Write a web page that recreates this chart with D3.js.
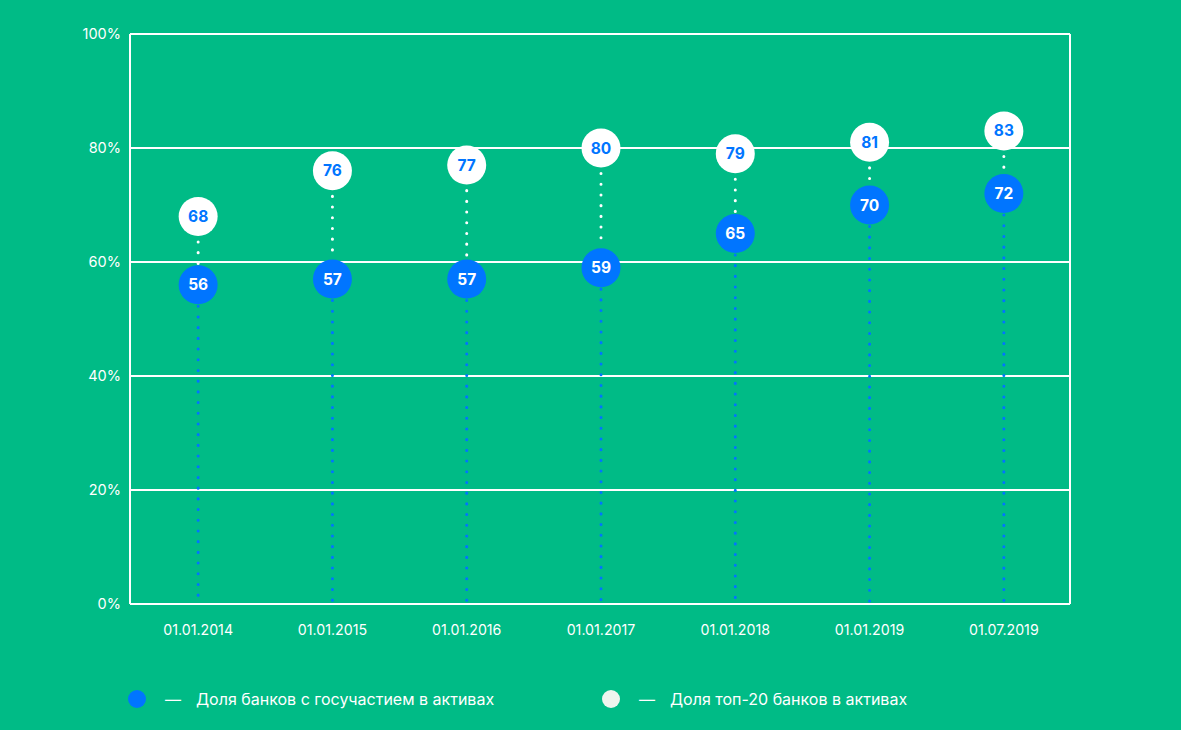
<!DOCTYPE html>
<html><head><meta charset="utf-8">
<script src="https://cdn.jsdelivr.net/npm/d3@7"></script>
<style>
html,body{margin:0;padding:0;background:#00BB86;}
svg{display:block;font-family:Inter,"Noto Sans",sans-serif;}
</style></head>
<body><svg id="c" width="1181" height="730"></svg>
<script>
const categories = ["01.01.2014","01.01.2015","01.01.2016","01.01.2017","01.01.2018","01.01.2019","01.07.2019"];
const stateBanks = [56,57,57,59,65,70,72];
const top20Banks = [68,76,77,80,79,81,83];
const yTicks = [0,20,40,60,80,100];
const legendLabels = ["Доля банков с госучастием в активах","Доля топ-20 банков в активах"];

const W=1181,H=730;
const svg=d3.select("#c");
svg.append("rect").attr("width",W).attr("height",H).attr("fill","#00BB86");
const m={l:130,r:1070,t:34,b:604};
const x=d3.scaleBand().domain(categories).range([m.l+1,m.r+1]);
const y=d3.scaleLinear().domain([0,100]).range([m.b,m.t]);
const blue="#0075FF", white="#FFFFFF";

// grid
const g=svg.append("g");
g.selectAll("line.grid").data(yTicks).enter().append("line")
 .attr("x1",m.l).attr("x2",m.r).attr("y1",d=>y(d)).attr("y2",d=>y(d))
 .attr("stroke",white).attr("stroke-width",2);
g.append("line").attr("x1",m.l).attr("x2",m.l).attr("y1",m.t).attr("y2",m.b).attr("stroke",white).attr("stroke-width",2);
g.append("line").attr("x1",m.r).attr("x2",m.r).attr("y1",m.t).attr("y2",m.b).attr("stroke",white).attr("stroke-width",2);

// y labels
const yAxis=d3.axisLeft(y).tickValues(yTicks).tickFormat(d=>d+"%").tickSize(0).tickPadding(9);
const ya=svg.append("g").attr("transform",`translate(${m.l},0)`).call(yAxis);
ya.select(".domain").remove();
ya.selectAll("text").attr("fill",white).attr("font-size",14.5).attr("font-family","Inter,'Noto Sans',sans-serif");

// x labels
const xAxis=d3.axisBottom(x).tickSize(0).tickPadding(21);
const xa=svg.append("g").attr("transform",`translate(0,${m.b})`).call(xAxis);
xa.select(".domain").remove();
xa.selectAll("text").attr("fill",white).attr("font-size",14.2).attr("font-family","Inter,'Noto Sans',sans-serif");

const cx=d=>x(d)+x.bandwidth()/2;
const r=19.5;
const rows=categories.map((c,i)=>({c,s:stateBanks[i],t:top20Banks[i]}));

// blue dotted lines to bottom
svg.append("g").selectAll("line").data(rows).enter().append("line")
 .attr("x1",d=>cx(d.c)).attr("x2",d=>cx(d.c))
 .attr("y1",d=>y(d.s)).attr("y2",m.b-2)
 .attr("stroke",blue).attr("stroke-width",3).attr("stroke-linecap","round")
 .attr("stroke-dasharray","0.1,10.6");
// white dotted between
svg.append("g").selectAll("line").data(rows).enter().append("line")
 .attr("x1",d=>cx(d.c)).attr("x2",d=>cx(d.c))
 .attr("y1",d=>y(d.t)+r+6).attr("y2",d=>y(d.s)-r)
 .attr("stroke",white).attr("stroke-width",3).attr("stroke-linecap","round")
 .attr("stroke-dasharray","0.1,10.6");

// circles
const pt=svg.append("g").selectAll("g").data(rows).enter().append("g");
pt.append("circle").attr("cx",d=>cx(d.c)).attr("cy",d=>y(d.t)).attr("r",r).attr("fill",white);
pt.append("text").attr("x",d=>cx(d.c)).attr("y",d=>y(d.t)).attr("dy","0.36em")
 .attr("text-anchor","middle").attr("font-size",15.5).attr("font-weight",700).attr("fill",blue).text(d=>d.t);
pt.append("circle").attr("cx",d=>cx(d.c)).attr("cy",d=>y(d.s)).attr("r",r).attr("fill",blue);
pt.append("text").attr("x",d=>cx(d.c)).attr("y",d=>y(d.s)).attr("dy","0.36em")
 .attr("text-anchor","middle").attr("font-size",15.5).attr("font-weight",700).attr("fill",white).text(d=>d.s);

// legend
const leg=[{x:137,c:blue,t:legendLabels[0]},{x:611,c:"#EEF5EE",t:legendLabels[1]}];
const lg=svg.append("g").selectAll("g").data(leg).enter().append("g").attr("transform",d=>`translate(${d.x},699)`);
lg.append("circle").attr("r",9).attr("fill",d=>d.c);
lg.append("text").attr("x",28).attr("dy","0.35em").attr("fill",white).attr("font-size",16).text("—");
lg.append("text").attr("x",59).attr("dy","0.35em").attr("fill",white).attr("font-size",16).text(d=>d.t);
</script></body></html>
